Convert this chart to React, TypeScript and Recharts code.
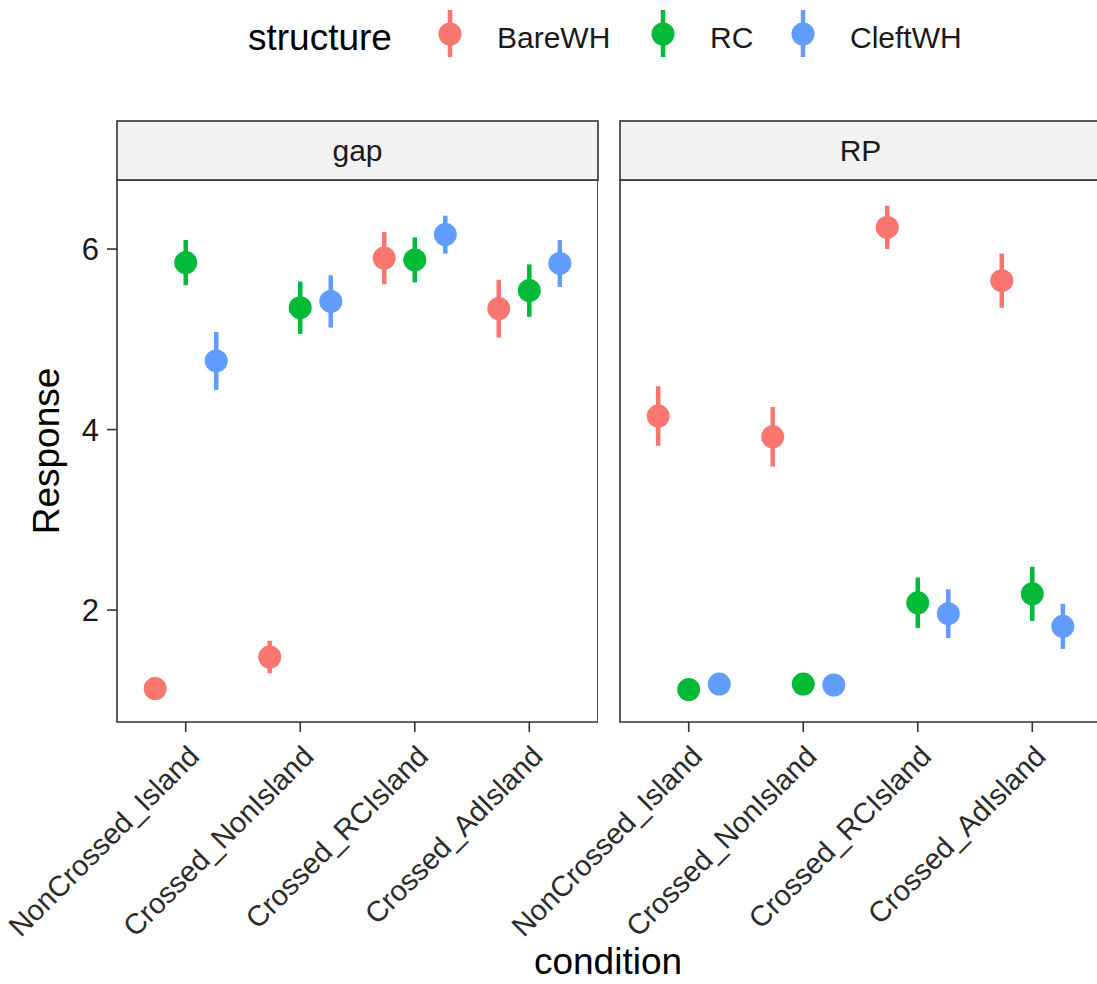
import React from "react";
import {
  ScatterChart,
  Scatter,
  XAxis,
  YAxis,
  ErrorBar,
  ReferenceArea,
} from "recharts";

// ---- data -------------------------------------------------------------
const conditions = [
  "NonCrossed_Island",
  "Crossed_NonIsland",
  "Crossed_RCIsland",
  "Crossed_AdIsland",
];
const structures = ["BareWH", "RC", "CleftWH"];
const facets = ["gap", "RP"];

// mean response per condition, gap facet
const gapBareWH = [1.13, 1.48, 5.9, 5.34];
const gapRC = [5.85, 5.35, 5.88, 5.54];
const gapCleftWH = [4.76, 5.42, 6.16, 5.84];
// standard errors, gap facet
const gapBareWHErr = [0.08, 0.18, 0.29, 0.32];
const gapRCErr = [0.25, 0.29, 0.25, 0.29];
const gapCleftWHErr = [0.32, 0.29, 0.21, 0.26];

// mean response per condition, RP facet
const rpBareWH = [4.15, 3.92, 6.24, 5.65];
const rpRC = [1.12, 1.18, 2.08, 2.18];
const rpCleftWH = [1.18, 1.17, 1.96, 1.82];
// standard errors, RP facet
const rpBareWHErr = [0.33, 0.33, 0.24, 0.3];
const rpRCErr = [0.06, 0.06, 0.28, 0.3];
const rpCleftWHErr = [0.06, 0.06, 0.27, 0.25];

const yTicks = [2, 4, 6];
const yDomain: [number, number] = [0.76, 6.765];
const xTicks = [1, 2, 3, 4];
const xDomain: [number, number] = [0.4, 4.6];

// ---- style ------------------------------------------------------------
const COLORS = ["#F8766D", "#00BA38", "#619CFF"];
const FONT = "'Liberation Sans', Arial, Helvetica, sans-serif";
const BORDER = "#333333";
const DODGE = 0.8 / 3;
const POINT_R = 11.5;
const BAR_W = 4.5;

const PANEL_W = 481;
const TOP = 180;
const BOTTOM_AXIS_H = 262;
const H = 984;
const Y_AXIS_W = 117;
const PANEL2_LEFT = 620;
// room to the left of the second panel so its rotated tick labels are not clipped
const PANEL2_PAD = 320;

type Row = { x: number; y: number; err: number; condition: string };

function build(vals: number[], errs: number[], k: number): Row[] {
  const off = (k - 1) * DODGE;
  return conditions.map((c, i) => ({ x: i + 1 + off, y: vals[i], err: errs[i], condition: c }));
}

const gapSeries = [
  build(gapBareWH, gapBareWHErr, 0),
  build(gapRC, gapRCErr, 1),
  build(gapCleftWH, gapCleftWHErr, 2),
];
const rpSeries = [
  build(rpBareWH, rpBareWHErr, 0),
  build(rpRC, rpRCErr, 1),
  build(rpCleftWH, rpCleftWHErr, 2),
];

const dot = (color: string) => (props: any) =>
  <circle cx={props.cx} cy={props.cy} r={POINT_R} fill={color} />;

const XTick = (props: any) => {
  const { x, y, payload } = props;
  return (
    <text
      x={x}
      y={y}
      dy="0.74em"
      textAnchor="end"
      transform={`rotate(-45, ${x}, ${y})`}
      fontSize={29}
      fontFamily={FONT}
      fill="#2b2b2b"
    >
      {conditions[payload.value - 1]}
    </text>
  );
};

function Panel({
  series,
  showY,
  width,
  left,
}: {
  series: Row[][];
  showY: boolean;
  width: number;
  left: number;
}) {
  return (
    <ScatterChart
      width={width}
      height={H}
      margin={{ top: TOP, right: 0, bottom: 0, left }}
    >
      <XAxis
        type="number"
        dataKey="x"
        domain={xDomain}
        ticks={xTicks}
        allowDataOverflow
        height={BOTTOM_AXIS_H}
        axisLine={false}
        tickSize={10}
        tickMargin={11}
        tickLine={{ stroke: BORDER, strokeWidth: 1.6 }}
        tick={<XTick />}
        interval={0}
      />
      <YAxis
        type="number"
        dataKey="y"
        domain={yDomain}
        ticks={yTicks}
        allowDataOverflow
        hide={!showY}
        width={Y_AXIS_W}
        axisLine={false}
        tickSize={10}
        tickMargin={8}
        tickLine={{ stroke: BORDER, strokeWidth: 1.6 }}
        tick={{ fontSize: 31, fill: "#1a1a1a", fontFamily: FONT }}
      />
      <ReferenceArea
        x1={xDomain[0]}
        x2={xDomain[1]}
        y1={yDomain[0]}
        y2={yDomain[1]}
        fill="none"
        stroke={BORDER}
        strokeWidth={1.6}
        ifOverflow="visible"
      />
      {series.map((data, k) => (
        <Scatter
          key={structures[k]}
          name={structures[k]}
          data={data}
          fill={COLORS[k]}
          shape={dot(COLORS[k])}
          isAnimationActive={false}
        >
          <ErrorBar
            dataKey="err"
            direction="y"
            width={0}
            stroke={COLORS[k]}
            strokeWidth={BAR_W}
            isAnimationActive={false}
          />
        </Scatter>
      ))}
    </ScatterChart>
  );
}

// legend layout: glyph centre and label start for each structure
const legendGlyphX = [450, 663, 803];
const legendLabelX = [497, 710, 850];

export default function App() {
  return (
    <div
      style={{
        position: "absolute",
        left: 0,
        top: 0,
        width: 1097,
        height: H,
        overflow: "hidden",
        background: "#ffffff",
        fontFamily: FONT,
      }}
    >
      <div style={{ position: "absolute", left: 0, top: 0 }}>
        <Panel series={gapSeries} showY width={Y_AXIS_W + PANEL_W} left={0} />
      </div>
      <div style={{ position: "absolute", left: PANEL2_LEFT - PANEL2_PAD, top: 0 }}>
        <Panel
          series={rpSeries}
          showY={false}
          width={PANEL2_PAD + PANEL_W}
          left={PANEL2_PAD}
        />
      </div>

      <svg
        width={1097}
        height={H}
        style={{ position: "absolute", left: 0, top: 0, pointerEvents: "none" }}
      >
        {/* facet strips */}
        {facets.map((f, i) => {
          const x0 = i === 0 ? Y_AXIS_W : PANEL2_LEFT;
          return (
            <g key={f}>
              <rect
                x={x0}
                y={121}
                width={PANEL_W}
                height={TOP - 121}
                fill="#F2F2F2"
                stroke={BORDER}
                strokeWidth={1.6}
              />
              <text
                x={x0 + PANEL_W / 2}
                y={(121 + TOP) / 2}
                dy="0.35em"
                textAnchor="middle"
                fontSize={30}
                fontFamily={FONT}
                fill="#1a1a1a"
              >
                {f}
              </text>
            </g>
          );
        })}

        {/* axis titles */}
        <text
          x={608}
          y={961}
          dy="0.35em"
          textAnchor="middle"
          fontSize={37}
          fontFamily={FONT}
          fill="#000"
        >
          condition
        </text>
        <text
          x={46}
          y={451}
          dy="0.35em"
          textAnchor="middle"
          transform="rotate(-90, 46, 451)"
          fontSize={37}
          fontFamily={FONT}
          fill="#000"
        >
          Response
        </text>

        {/* legend */}
        <text x={248} y={37} dy="0.35em" fontSize={37} fontFamily={FONT} fill="#000">
          structure
        </text>
        {structures.map((s, k) => (
          <g key={s}>
            <line
              x1={legendGlyphX[k]}
              x2={legendGlyphX[k]}
              y1={10}
              y2={57}
              stroke={COLORS[k]}
              strokeWidth={BAR_W}
            />
            <circle cx={legendGlyphX[k]} cy={34} r={POINT_R} fill={COLORS[k]} />
            <text
              x={legendLabelX[k]}
              y={37}
              dy="0.35em"
              fontSize={30}
              fontFamily={FONT}
              fill="#1a1a1a"
            >
              {s}
            </text>
          </g>
        ))}
      </svg>
    </div>
  );
}
